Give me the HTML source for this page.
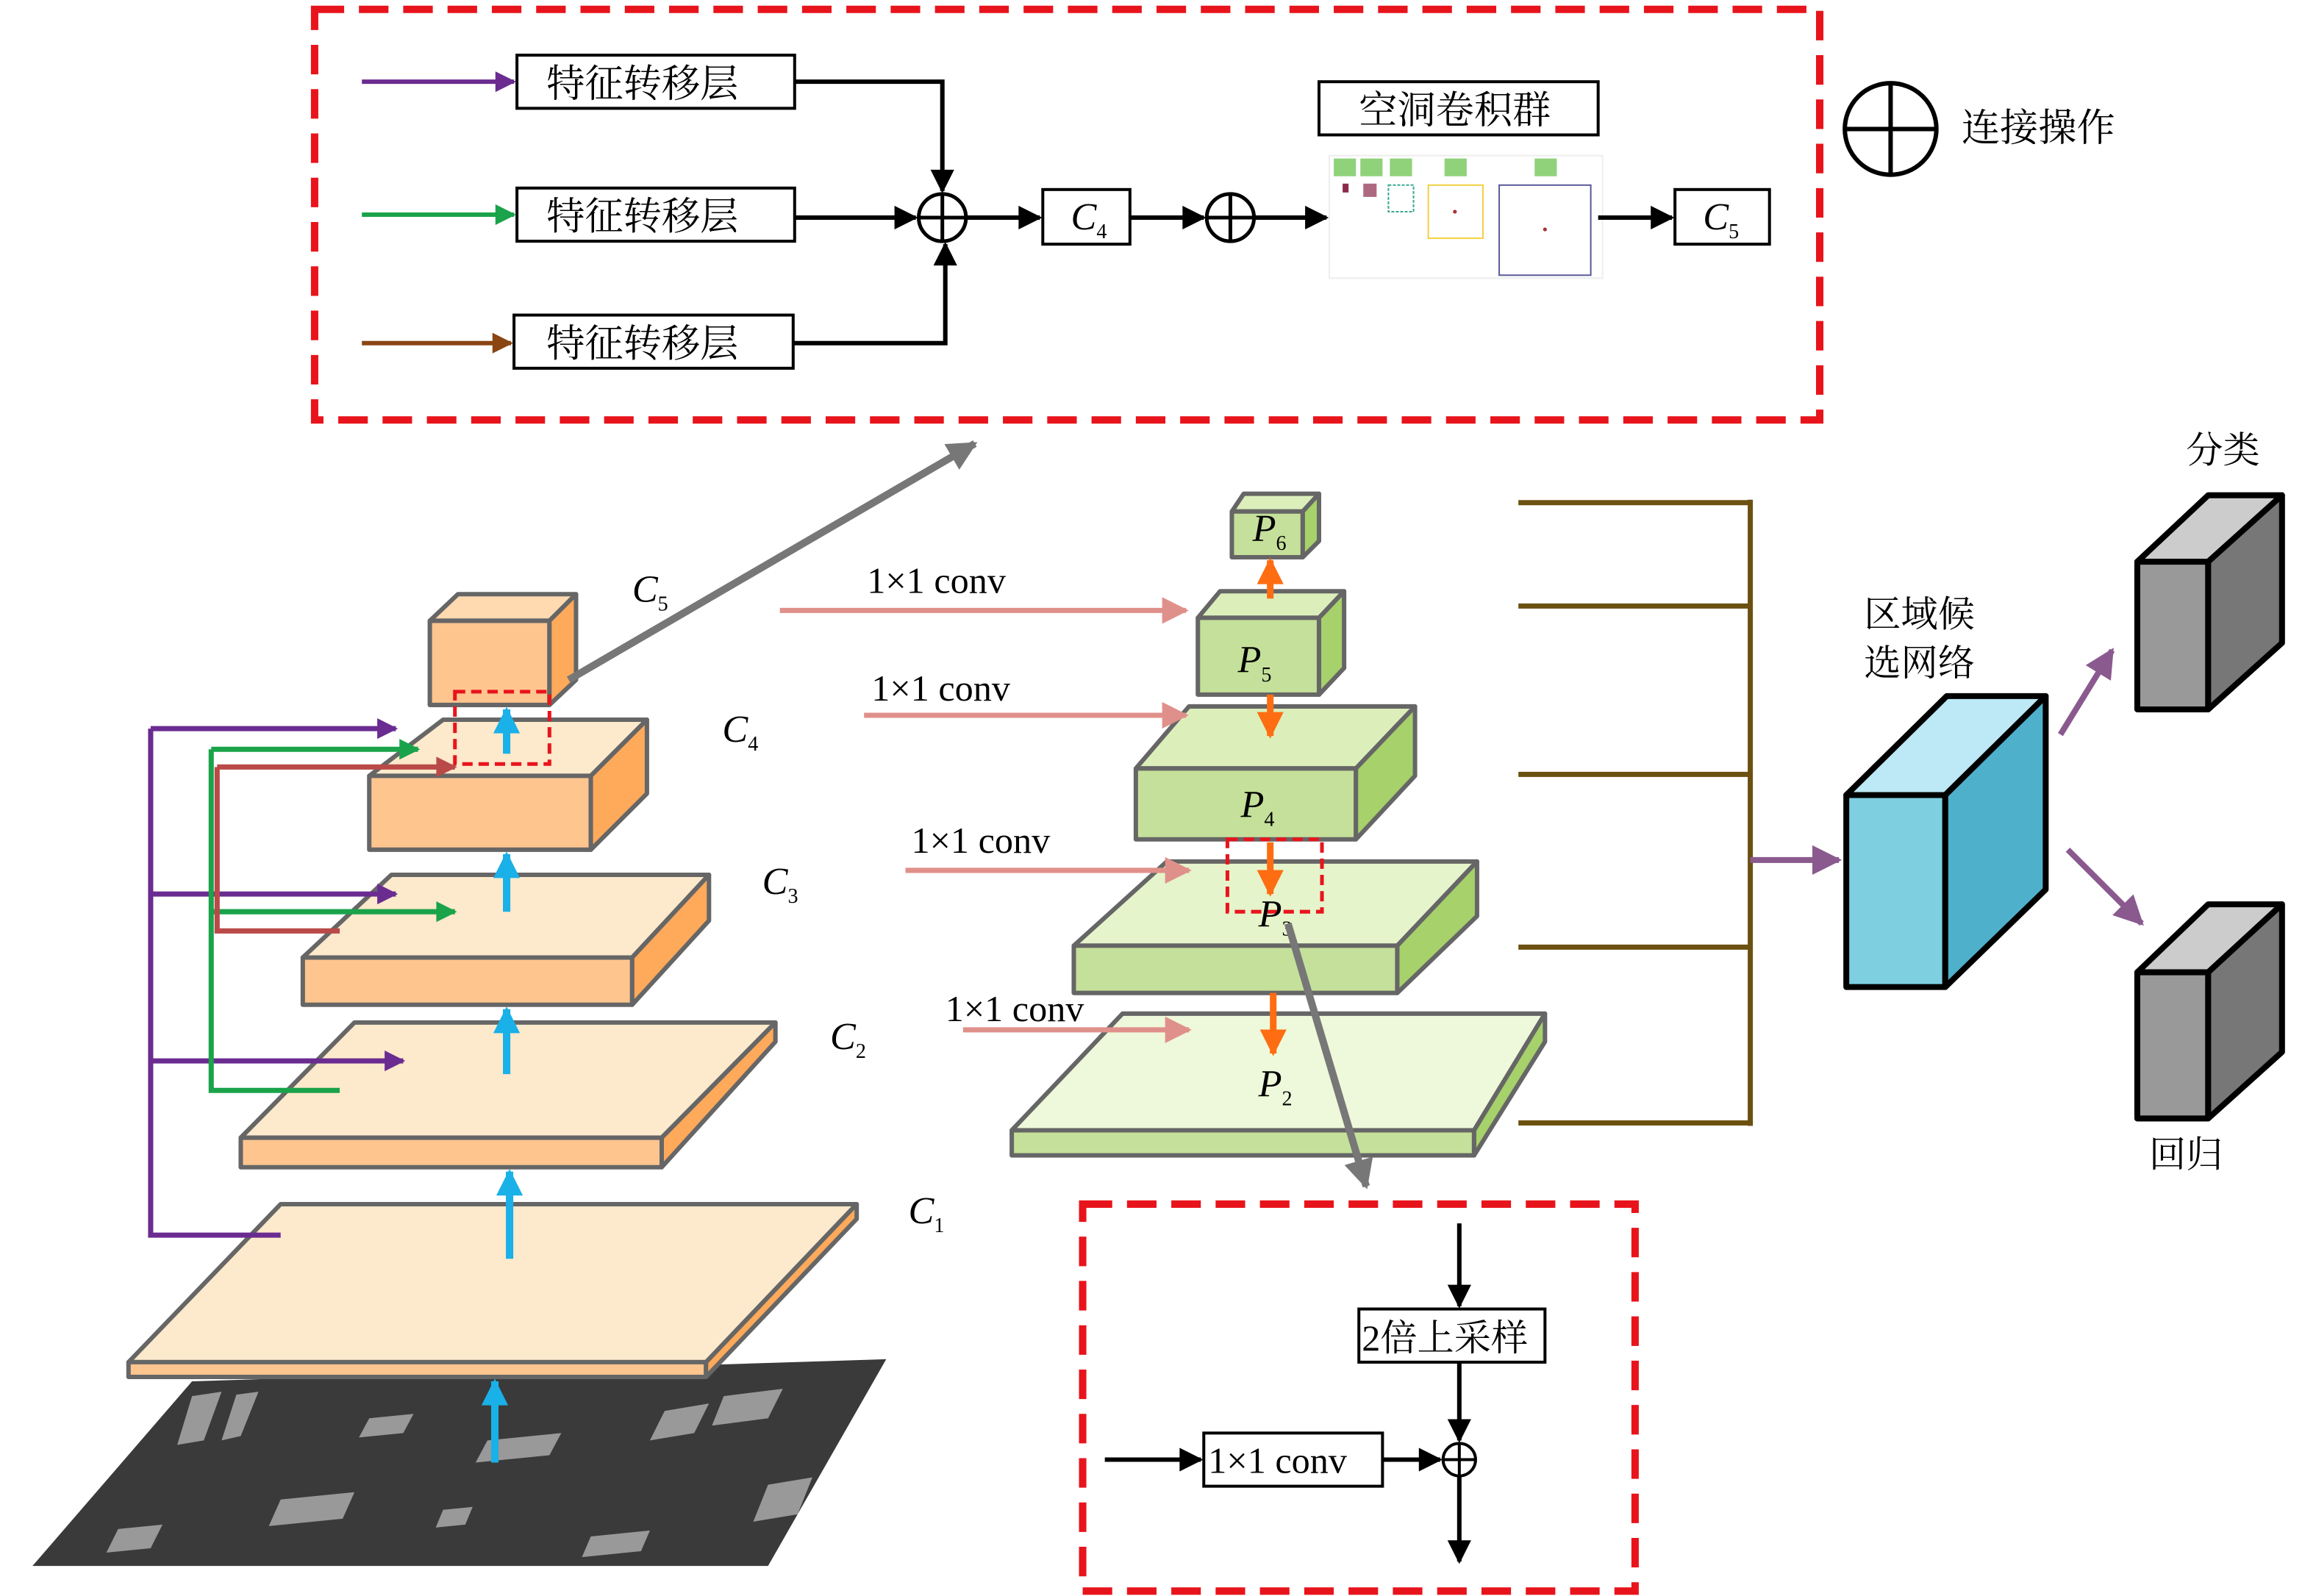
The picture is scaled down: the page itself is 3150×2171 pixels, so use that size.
<!DOCTYPE html>
<html><head><meta charset="utf-8"><style>
html,body{margin:0;padding:0;background:#fff;}
svg{display:block;}
.cj{font-family:"Liberation Serif","Noto Serif CJK SC",serif;}
.lt{font-family:"Liberation Serif",serif;}
</style></head><body>
<svg width="3150" height="2171" viewBox="0 0 1568 1080" xmlns="http://www.w3.org/2000/svg">
<defs>
<marker id="k" viewBox="0 0 10 10" refX="9" refY="5" markerWidth="18" markerHeight="16" orient="auto" markerUnits="userSpaceOnUse"><path d="M0,0 L10,5 L0,10 z" fill="#000"/></marker>
<marker id="pu" viewBox="0 0 10 10" refX="9" refY="5" markerWidth="16" markerHeight="14" orient="auto" markerUnits="userSpaceOnUse"><path d="M0,0 L10,5 L0,10 z" fill="#6a2c91"/></marker>
<marker id="gr" viewBox="0 0 10 10" refX="9" refY="5" markerWidth="16" markerHeight="14" orient="auto" markerUnits="userSpaceOnUse"><path d="M0,0 L10,5 L0,10 z" fill="#1aa34a"/></marker>
<marker id="br" viewBox="0 0 10 10" refX="9" refY="5" markerWidth="16" markerHeight="14" orient="auto" markerUnits="userSpaceOnUse"><path d="M0,0 L10,5 L0,10 z" fill="#8b4513"/></marker>
<marker id="rd" viewBox="0 0 10 10" refX="9" refY="5" markerWidth="16" markerHeight="14" orient="auto" markerUnits="userSpaceOnUse"><path d="M0,0 L10,5 L0,10 z" fill="#b94a48"/></marker>
<marker id="bl" viewBox="0 0 10 10" refX="9" refY="5" markerWidth="20" markerHeight="18" orient="auto" markerUnits="userSpaceOnUse"><path d="M0,0 L10,5 L0,10 z" fill="#1ab0e8"/></marker>
<marker id="or" viewBox="0 0 10 10" refX="9" refY="5" markerWidth="20" markerHeight="18" orient="auto" markerUnits="userSpaceOnUse"><path d="M0,0 L10,5 L0,10 z" fill="#ff6d12"/></marker>
<marker id="pk" viewBox="0 0 10 10" refX="9" refY="5" markerWidth="20" markerHeight="18" orient="auto" markerUnits="userSpaceOnUse"><path d="M0,0 L10,5 L0,10 z" fill="#e0908a"/></marker>
<marker id="gy" viewBox="0 0 10 10" refX="9" refY="5" markerWidth="22" markerHeight="20" orient="auto" markerUnits="userSpaceOnUse"><path d="M0,0 L10,5 L0,10 z" fill="#777"/></marker>
<marker id="vp" viewBox="0 0 10 10" refX="9" refY="5" markerWidth="22" markerHeight="20" orient="auto" markerUnits="userSpaceOnUse"><path d="M0,0 L10,5 L0,10 z" fill="#8a5a8f"/></marker>
</defs>

<rect x="213" y="6" width="1019" height="278" fill="none" stroke="#e8141c" stroke-width="5" stroke-dasharray="20 10"/>
<line x1="245" y1="55" x2="348" y2="55" stroke="#6a2c91" stroke-width="3" marker-end="url(#pu)"/>
<line x1="245" y1="145" x2="348" y2="145" stroke="#1aa34a" stroke-width="3" marker-end="url(#gr)"/>
<line x1="245" y1="232" x2="346" y2="232" stroke="#8b4513" stroke-width="3" marker-end="url(#br)"/>
<g class="cj" font-size="26" fill="#000">
<rect x="350" y="37" width="188" height="36" fill="#fff" stroke="#000" stroke-width="2"/><text x="370" y="65">特征转移层</text>
<rect x="350" y="127" width="188" height="36" fill="#fff" stroke="#000" stroke-width="2"/><text x="370" y="155">特征转移层</text>
<rect x="348" y="213" width="189" height="36" fill="#fff" stroke="#000" stroke-width="2"/><text x="370" y="241">特征转移层</text>
</g>
<polyline points="538,55 638,55 638,129" fill="none" stroke="#000" stroke-width="3" marker-end="url(#k)"/>
<polyline points="537,232 640,232 640,165" fill="none" stroke="#000" stroke-width="3" marker-end="url(#k)"/>
<line x1="538" y1="147" x2="620" y2="147" stroke="#000" stroke-width="3" marker-end="url(#k)"/>
<circle cx="638" cy="147" r="16" fill="#fff" stroke="#000" stroke-width="2.5"/><path d="M622,147H654M638,131V163" stroke="#000" stroke-width="2.5"/>
<line x1="654" y1="147" x2="704" y2="147" stroke="#000" stroke-width="3" marker-end="url(#k)"/>
<rect x="706" y="128" width="59" height="37" fill="#fff" stroke="#000" stroke-width="2"/>
<text x="725" y="155" class="lt" font-style="italic" font-size="26">C<tspan font-size="14" dy="6" font-style="normal">4</tspan></text>
<line x1="765" y1="147" x2="815" y2="147" stroke="#000" stroke-width="3" marker-end="url(#k)"/>
<circle cx="833" cy="147" r="16" fill="#fff" stroke="#000" stroke-width="2.5"/><path d="M817,147H849M833,131V163" stroke="#000" stroke-width="2.5"/>
<line x1="849" y1="147" x2="898" y2="147" stroke="#000" stroke-width="3" marker-end="url(#k)"/>
<rect x="893" y="55" width="189" height="36" fill="#fff" stroke="#000" stroke-width="2"/>
<text x="920" y="83" class="cj" font-size="26">空洞卷积群</text>
<rect x="900" y="105" width="185" height="83" fill="none" stroke="#eee" stroke-width="1"/>
<g fill="#8fd27a"><rect x="903" y="107" width="15" height="12"/><rect x="921" y="107" width="15" height="12"/><rect x="941" y="107" width="15" height="12"/><rect x="978" y="107" width="15" height="12"/><rect x="1039" y="107" width="15" height="12"/></g>
<rect x="909" y="124" width="4" height="6" fill="#8b2a4a"/>
<rect x="923" y="124" width="9" height="9" fill="#8b2a4a" opacity="0.7"/>
<rect x="940" y="125" width="17" height="18" fill="none" stroke="#3aa890" stroke-width="1" stroke-dasharray="2 1"/>
<rect x="967" y="125" width="37" height="36" fill="none" stroke="#f0d040" stroke-width="1"/>
<rect x="1015" y="125" width="62" height="61" fill="none" stroke="#5a5a9a" stroke-width="1"/>
<circle cx="985" cy="143" r="1.3" fill="#a33"/><circle cx="1046" cy="155" r="1.3" fill="#a33"/>
<line x1="1082" y1="147" x2="1132" y2="147" stroke="#000" stroke-width="3" marker-end="url(#k)"/>
<rect x="1134" y="128" width="64" height="37" fill="#fff" stroke="#000" stroke-width="2"/>
<text x="1153" y="155" class="lt" font-style="italic" font-size="26">C<tspan font-size="14" dy="6" font-style="normal">5</tspan></text>
<circle cx="1280" cy="87" r="31" fill="#fff" stroke="#000" stroke-width="3"/><path d="M1249,87H1311M1280,56V118" stroke="#000" stroke-width="3"/>
<text x="1328" y="95" class="cj" font-size="26">连接操作</text>

<!-- SAR image -->
<polygon points="22,1060 130,935 600,920 520,1060" fill="#3a3a3a"/>
<g fill="#e8e8e8" opacity="0.55">
<polygon points="130,945 150,942 138,975 120,978"/>
<polygon points="160,944 175,942 163,972 150,975"/>
<polygon points="330,975 380,970 372,985 322,990"/>
<polygon points="450,955 480,950 470,970 440,975"/>
<polygon points="490,945 530,940 520,960 482,965"/>
<polygon points="190,1015 240,1010 232,1028 182,1033"/>
<polygon points="80,1035 110,1032 102,1048 72,1051"/>
<polygon points="300,1022 320,1020 315,1032 295,1034"/>
<polygon points="520,1005 550,1000 540,1025 510,1030"/>
<polygon points="400,1040 440,1036 434,1050 394,1054"/>
<polygon points="250,960 280,957 273,970 243,973"/>
</g>
<line x1="335" y1="990" x2="335" y2="935" stroke="#1ab0e8" stroke-width="5" marker-end="url(#bl)"/>

<g stroke="#666" stroke-width="3" stroke-linejoin="round">
<polygon points="87,922 190,815 580,815 478,922" fill="#fde9cc"/>
<polygon points="87,922 478,922 478,932 87,932" fill="#ffc58f"/>
<polygon points="478,922 580,815 580,825 478,932" fill="#ffa95a"/>
<polygon points="163,770 240,692 525,692 448,770" fill="#fde9cc"/>
<polygon points="163,770 448,770 448,790 163,790" fill="#ffc58f"/>
<polygon points="448,770 525,692 525,705 448,790" fill="#ffa95a"/>
<polygon points="205,648 265,592 480,592 428,648" fill="#fde9cc"/>
<polygon points="205,648 428,648 428,680 205,680" fill="#ffc58f"/>
<polygon points="428,648 480,592 480,623 428,680" fill="#ffa95a"/>
<polygon points="250,525 300,487 438,487 400,525" fill="#fde9cc"/>
<polygon points="250,525 400,525 400,575 250,575" fill="#ffc58f"/>
<polygon points="400,525 438,487 438,537 400,575" fill="#ffa95a"/>
<polygon points="291,420 310,402 390,402 372,420" fill="#ffd9b0"/>
<polygon points="291,420 372,420 372,477 291,477" fill="#ffc58f"/>
<polygon points="372,420 390,402 390,460 372,477" fill="#ffa95a"/>
</g>
<g stroke="#1ab0e8" stroke-width="5">
<line x1="343" y1="510" x2="343" y2="480" marker-end="url(#bl)"/>
<line x1="343" y1="617" x2="343" y2="578" marker-end="url(#bl)"/>
<line x1="343" y1="727" x2="343" y2="683" marker-end="url(#bl)"/>
<line x1="345" y1="852" x2="345" y2="793" marker-end="url(#bl)"/>
</g>
<rect x="308" y="468" width="64" height="49" fill="none" stroke="#e8141c" stroke-width="2.5" stroke-dasharray="7 4"/>
<g fill="none" stroke-width="3.5">
<polyline points="102,493 102,836 190,836" stroke="#6a2c91"/>
<line x1="102" y1="493" x2="268" y2="493" stroke="#6a2c91" marker-end="url(#pu)"/>
<line x1="102" y1="605" x2="268" y2="605" stroke="#6a2c91" marker-end="url(#pu)"/>
<line x1="102" y1="718" x2="273" y2="718" stroke="#6a2c91" marker-end="url(#pu)"/>
<polyline points="143,507 143,738 230,738" stroke="#1aa34a"/>
<line x1="143" y1="507" x2="283" y2="507" stroke="#1aa34a" marker-end="url(#gr)"/>
<line x1="143" y1="617" x2="308" y2="617" stroke="#1aa34a" marker-end="url(#gr)"/>
<polyline points="147,519 147,630 230,630" stroke="#b94a48"/>
<line x1="147" y1="519" x2="308" y2="519" stroke="#b94a48" marker-end="url(#rd)"/>
</g>
<line x1="385" y1="460" x2="660" y2="300" stroke="#777" stroke-width="5" marker-end="url(#gy)"/>
<g class="lt" font-style="italic" font-size="26">
<text x="428" y="407">C<tspan font-size="14" dy="6" font-style="normal">5</tspan></text>
<text x="489" y="502">C<tspan font-size="14" dy="6" font-style="normal">4</tspan></text>
<text x="516" y="605">C<tspan font-size="14" dy="6" font-style="normal">3</tspan></text>
<text x="562" y="710">C<tspan font-size="14" dy="6" font-style="normal">2</tspan></text>
<text x="615" y="828">C<tspan font-size="14" dy="6" font-style="normal">1</tspan></text>
</g>

<g stroke="#666" stroke-width="3" stroke-linejoin="round">
<polygon points="685,765 760,686 1046,686 998,765" fill="#eef8da"/>
<polygon points="685,765 998,765 998,782 685,782" fill="#c5e09a"/>
<polygon points="998,765 1046,686 1046,705 998,782" fill="#a6d16b"/>
<polygon points="727,640 790,583 1000,583 946,640" fill="#e6f4cb"/>
<polygon points="727,640 946,640 946,672 727,672" fill="#c5e09a"/>
<polygon points="946,640 1000,583 1000,620 946,672" fill="#a6d16b"/>
<polygon points="769,520 805,478 958,478 918,520" fill="#dcefbb"/>
<polygon points="769,520 918,520 918,568 769,568" fill="#c5e09a"/>
<polygon points="918,520 958,478 958,525 918,568" fill="#a6d16b"/>
<polygon points="811,418 826,400 910,400 893,418" fill="#dcefbb"/>
<polygon points="811,418 893,418 893,470 811,470" fill="#c5e09a"/>
<polygon points="893,418 910,400 910,452 893,470" fill="#a6d16b"/>
<polygon points="834,346 842,334 893,334 882,346" fill="#dcefbb"/>
<polygon points="834,346 882,346 882,377 834,377" fill="#c5e09a"/>
<polygon points="882,346 893,334 893,366 882,377" fill="#a6d16b"/>
</g>

<g stroke="#e0908a" stroke-width="3.5">
<line x1="528" y1="413" x2="803" y2="413" marker-end="url(#pk)"/>
<line x1="585" y1="484" x2="803" y2="484" marker-end="url(#pk)"/>
<line x1="613" y1="589" x2="805" y2="589" marker-end="url(#pk)"/>
<line x1="652" y1="697" x2="805" y2="697" marker-end="url(#pk)"/>
</g>
<g class="lt" font-size="25">
<text x="587" y="401">1×1 conv</text>
<text x="590" y="474">1×1 conv</text>
<text x="617" y="577">1×1 conv</text>
<text x="640" y="691">1×1 conv</text>
</g>

<g stroke="#ff6d12" stroke-width="4.5">
<line x1="860" y1="405" x2="860" y2="379" marker-end="url(#or)"/>
<line x1="860" y1="470" x2="860" y2="498" marker-end="url(#or)"/>
<line x1="860" y1="570" x2="860" y2="605" marker-end="url(#or)"/>
<line x1="862" y1="672" x2="862" y2="713" marker-end="url(#or)"/>
</g>
<rect x="831" y="568" width="64" height="49" fill="none" stroke="#e8141c" stroke-width="2.5" stroke-dasharray="7 4"/>
<g class="lt" font-style="italic" font-size="26">
<text x="848" y="366">P<tspan font-size="14" dy="6" font-style="normal">6</tspan></text>
<text x="838" y="455">P<tspan font-size="14" dy="6" font-style="normal">5</tspan></text>
<text x="840" y="553">P<tspan font-size="14" dy="6" font-style="normal">4</tspan></text>
<text x="852" y="627">P<tspan font-size="14" dy="6" font-style="normal">3</tspan></text>
<text x="852" y="742">P<tspan font-size="14" dy="6" font-style="normal">2</tspan></text>
</g>
<line x1="872" y1="625" x2="925" y2="803" stroke="#777" stroke-width="5" marker-end="url(#gy)"/>

<rect x="733" y="815" width="374" height="262" fill="none" stroke="#e8141c" stroke-width="5" stroke-dasharray="20 10"/>
<line x1="988" y1="828" x2="988" y2="884" stroke="#000" stroke-width="3" marker-end="url(#k)"/>
<rect x="920" y="886" width="126" height="36" fill="#fff" stroke="#000" stroke-width="2"/>
<text x="922" y="914" class="cj" font-size="25">2倍上采样</text>
<line x1="988" y1="922" x2="988" y2="975" stroke="#000" stroke-width="3" marker-end="url(#k)"/>
<circle cx="988" cy="988" r="11" fill="#fff" stroke="#000" stroke-width="2"/><path d="M977,988H999M988,977V999" stroke="#000" stroke-width="2"/>
<line x1="748" y1="988" x2="813" y2="988" stroke="#000" stroke-width="3" marker-end="url(#k)"/>
<rect x="815" y="970" width="121" height="36" fill="#fff" stroke="#000" stroke-width="2"/>
<text x="818" y="997" class="lt" font-size="25">1×1 conv</text>
<line x1="936" y1="988" x2="975" y2="988" stroke="#000" stroke-width="3" marker-end="url(#k)"/>
<line x1="988" y1="999" x2="988" y2="1057" stroke="#000" stroke-width="3" marker-end="url(#k)"/>

<g stroke="#6b5010" stroke-width="3.5" fill="none">
<line x1="1028" y1="340" x2="1185" y2="340"/>
<line x1="1028" y1="410" x2="1185" y2="410"/>
<line x1="1028" y1="524" x2="1185" y2="524"/>
<line x1="1028" y1="641" x2="1185" y2="641"/>
<line x1="1028" y1="760" x2="1185" y2="760"/>
<line x1="1185" y1="338" x2="1185" y2="762"/>
</g>
<line x1="1185" y1="582" x2="1245" y2="582" stroke="#8a5a8f" stroke-width="4" marker-end="url(#vp)"/>

<g stroke="#000" stroke-width="4" stroke-linejoin="round">
<polygon points="1250,538 1318,471 1385,471 1317,538" fill="#bde8f5"/>
<polygon points="1250,538 1317,538 1317,668 1250,668" fill="#7ecfe0"/>
<polygon points="1317,538 1385,471 1385,602 1317,668" fill="#4fb0cc"/>
</g>
<text x="1262" y="424" class="cj" font-size="25">区域候</text>
<text x="1262" y="457" class="cj" font-size="25">选网络</text>
<line x1="1395" y1="497" x2="1430" y2="440" stroke="#8a5a8f" stroke-width="4" marker-end="url(#vp)"/>
<line x1="1400" y1="575" x2="1450" y2="625" stroke="#8a5a8f" stroke-width="4" marker-end="url(#vp)"/>

<g stroke="#000" stroke-width="4" stroke-linejoin="round">
<polygon points="1447,380 1495,335 1545,335 1495,380" fill="#ccc"/>
<polygon points="1447,380 1495,380 1495,480 1447,480" fill="#999"/>
<polygon points="1495,380 1545,335 1545,435 1495,480" fill="#777"/>
<polygon points="1447,658 1495,612 1545,612 1495,658" fill="#ccc"/>
<polygon points="1447,658 1495,658 1495,757 1447,757" fill="#999"/>
<polygon points="1495,658 1545,612 1545,712 1495,757" fill="#777"/>
</g>
<text x="1480" y="313" class="cj" font-size="25">分类</text>
<text x="1455" y="790" class="cj" font-size="25">回归</text>
</svg>
</body></html>
